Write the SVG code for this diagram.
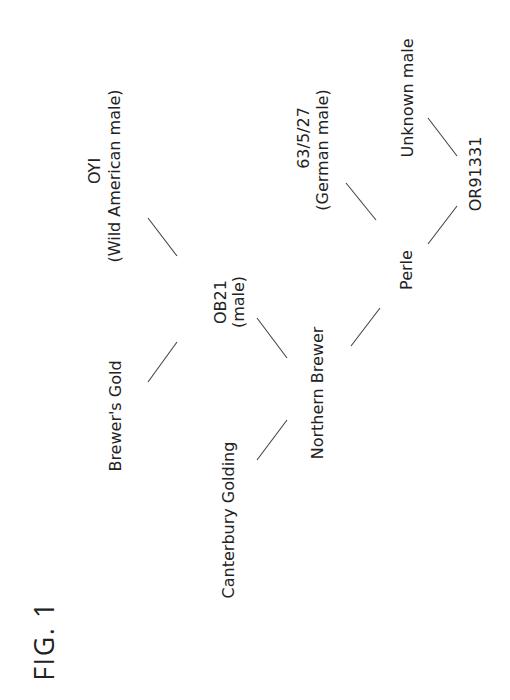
<svg xmlns="http://www.w3.org/2000/svg" width="510" height="700" viewBox="0 0 510 700">
<style>
text{font-family:"DejaVu Sans","Noto Sans",sans-serif;font-size:16px;fill:#222;text-anchor:middle}
.fig{font-family:"Open Sans","Noto Sans",sans-serif;font-size:27px;letter-spacing:1.5px}
line{stroke:#444;stroke-width:1.1}
</style>
<rect width="510" height="700" fill="#fff"/>
<text class="fig" transform="translate(54,641) rotate(-90)">FIG. 1</text>
<g id="node-oyi"><text transform="translate(100,171) rotate(-90)">OYI</text><text transform="translate(120,176) rotate(-90)">(Wild American male)</text></g>
<g id="node-brewers-gold"><text transform="translate(121,416) rotate(-90)">Brewer's Gold</text></g>
<g id="node-ob21"><text transform="translate(226,302) rotate(-90)">OB21</text><text transform="translate(244,302) rotate(-90)">(male)</text></g>
<g id="node-canterbury"><text transform="translate(234,520) rotate(-90)">Canterbury Golding</text></g>
<g id="node-northern-brewer"><text transform="translate(323,393) rotate(-90)">Northern Brewer</text></g>
<g id="node-63527"><text transform="translate(309,138) rotate(-90)">63/5/27</text><text transform="translate(328,150) rotate(-90)">(German male)</text></g>
<g id="node-perle"><text transform="translate(412,270) rotate(-90)">Perle</text></g>
<g id="node-unknown"><text transform="translate(413,98) rotate(-90)">Unknown male</text></g>
<g id="node-or91331"><text transform="translate(481,174) rotate(-90)">OR91331</text></g>
<g id="connectors">
<line x1="148" y1="382" x2="177" y2="342"/>
<line x1="148" y1="218" x2="177" y2="256"/>
<line x1="257" y1="460" x2="287" y2="420"/>
<line x1="257" y1="318" x2="287" y2="358"/>
<line x1="351" y1="346" x2="380" y2="308"/>
<line x1="346" y1="183" x2="376" y2="220"/>
<line x1="428" y1="244" x2="457" y2="206"/>
<line x1="428" y1="118" x2="457" y2="156"/>
</g>
</svg>
